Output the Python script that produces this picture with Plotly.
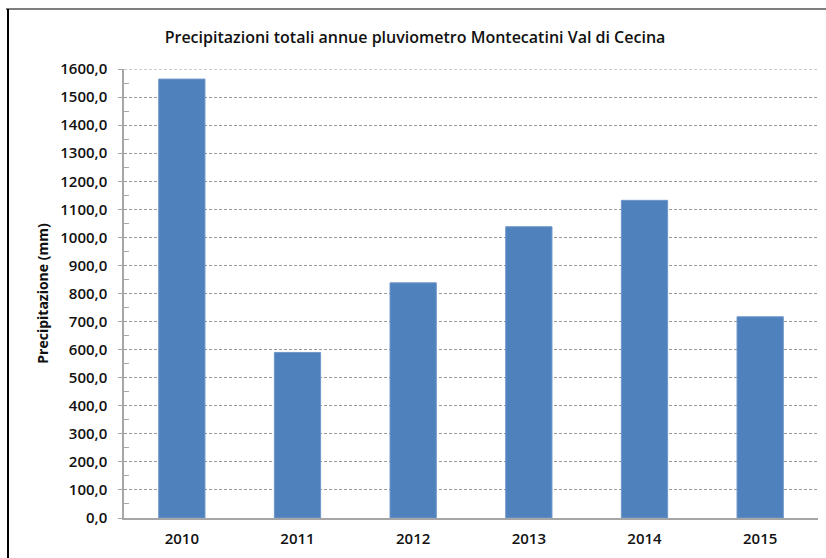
import plotly.graph_objects as go

years = ["2010", "2011", "2012", "2013", "2014", "2015"]
precip = [1564.0, 590.0, 838.0, 1038.0, 1132.0, 717.0]
y_ticks = list(range(0, 1700, 100))
y_max = 1600

title_text = "Precipitazioni totali annue pluviometro Montecatini Val di Cecina"
y_title = "Precipitazione (mm)"

W, H = 826, 558
L, R, T, B = 124, 8, 69, 40
pw = W - L - R
ph = H - T - B

def px_x(px):
    return (px - L) / pw

def px_y(py):
    return (H - B - py) / ph

fig = go.Figure()
fig.add_trace(go.Bar(
    x=years, y=precip,
    marker=dict(color="#4f81bd", line=dict(color="#6f97c9", width=1)),
    width=0.4,
))

font_family = "Open Sans, Lato, sans-serif"

fig.update_layout(
    width=W, height=H,
    margin=dict(l=L, r=R, t=T, b=B),
    paper_bgcolor="white", plot_bgcolor="white",
    separators=",.",
    showlegend=False,
    font=dict(family=font_family, color="#1a1a1a"),
    title=dict(text=title_text, x=px_x(415), xref="paper", xanchor="center",
               y=1 - 37 / H, yanchor="middle",
               font=dict(size=16, color="#111111", family=font_family, weight=600)),
    xaxis=dict(
        type="category", showgrid=False, zeroline=False,
        showline=True, linecolor="#a6a6a6", linewidth=1.5,
        ticks="", tickfont=dict(size=15, color="#111111", family=font_family, weight=600),
        ticklabelstandoff=6,
    ),
    yaxis=dict(
        range=[0, y_max], tickmode="array", tickvals=y_ticks,
        tickformat=".1f", showgrid=True, gridcolor="#9a9a9a", griddash="3px,2px",
        gridwidth=1, zeroline=False, showline=True, linecolor="#a6a6a6",
        linewidth=1.5, ticks="outside", ticklen=4, tickcolor="#a6a6a6",
        tickfont=dict(size=15, color="#111111", family=font_family, weight=600),
        ticklabelstandoff=8,
        minor=dict(tickvals=[v + 50 for v in y_ticks[:-1]], ticks="inside", ticklen=5,
                   tickcolor="#a6a6a6", showgrid=False),
        title=dict(text="<b>" + y_title + "</b>", standoff=8,
                   font=dict(size=14, color="#111111", family=font_family)),
    ),
    shapes=[
        dict(type="line", xref="paper", yref="y",
             x0=0, x1=1, y0=y_max, y1=y_max,
             line=dict(color="#9a9a9a", width=1, dash="3px,2px"), layer="below"),
        dict(type="line", xref="paper", yref="paper",
             x0=px_x(6), x1=px_x(830), y0=px_y(9), y1=px_y(9),
             line=dict(color="#7f7f7f", width=2)),
        dict(type="line", xref="paper", yref="paper",
             x0=px_x(8), x1=px_x(8), y0=px_y(9), y1=px_y(562),
             line=dict(color="#000000", width=2)),
    ],
)

fig.write_html("out.html")
